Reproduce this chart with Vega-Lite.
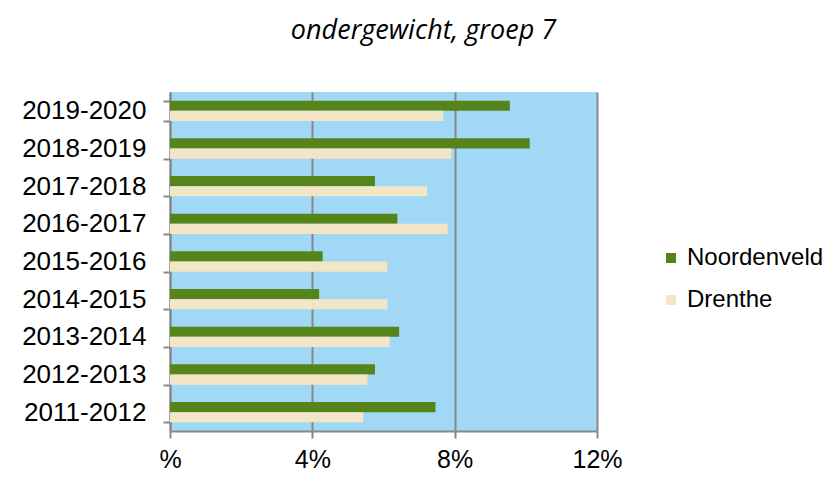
{
  "$schema": "https://vega.github.io/schema/vega-lite/v6.json",
  "autosize": {"type": "none"},
  "width": 427,
  "height": 339,
  "padding": {"left": 170, "top": 92, "right": 239, "bottom": 59},
  "background": "white",
  "title": {
    "text": "ondergewicht, groep 7",
    "font": "Open Sans",
    "fontStyle": "italic",
    "fontWeight": "normal",
    "fontSize": 27,
    "color": "#000000",
    "anchor": "middle",
    "frame": "group",
    "dx": 40,
    "offset": 34
  },
  "config": {
    "view": {"stroke": null, "fill": "#A0D8F5"}
  },
  "data": {
    "values": [
      {"jaar": "2019-2020", "regio": "Noordenveld", "waarde": 9.55},
      {"jaar": "2019-2020", "regio": "Drenthe", "waarde": 7.68},
      {"jaar": "2018-2019", "regio": "Noordenveld", "waarde": 10.11},
      {"jaar": "2018-2019", "regio": "Drenthe", "waarde": 7.91},
      {"jaar": "2017-2018", "regio": "Noordenveld", "waarde": 5.76},
      {"jaar": "2017-2018", "regio": "Drenthe", "waarde": 7.23},
      {"jaar": "2016-2017", "regio": "Noordenveld", "waarde": 6.39},
      {"jaar": "2016-2017", "regio": "Drenthe", "waarde": 7.8},
      {"jaar": "2015-2016", "regio": "Noordenveld", "waarde": 4.29},
      {"jaar": "2015-2016", "regio": "Drenthe", "waarde": 6.11},
      {"jaar": "2014-2015", "regio": "Noordenveld", "waarde": 4.19},
      {"jaar": "2014-2015", "regio": "Drenthe", "waarde": 6.11},
      {"jaar": "2013-2014", "regio": "Noordenveld", "waarde": 6.44},
      {"jaar": "2013-2014", "regio": "Drenthe", "waarde": 6.17},
      {"jaar": "2012-2013", "regio": "Noordenveld", "waarde": 5.76},
      {"jaar": "2012-2013", "regio": "Drenthe", "waarde": 5.55},
      {"jaar": "2011-2012", "regio": "Noordenveld", "waarde": 7.46},
      {"jaar": "2011-2012", "regio": "Drenthe", "waarde": 5.43}
    ]
  },
  "mark": {"type": "bar", "cornerRadius": 0},
  "encoding": {
    "y": {
      "field": "jaar",
      "type": "nominal",
      "sort": ["2019-2020", "2018-2019", "2017-2018", "2016-2017", "2015-2016", "2014-2015", "2013-2014", "2012-2013", "2011-2012"],
      "scale": {"paddingInner": 0.46, "paddingOuter": 0.23},
      "axis": {
        "title": null,
        "labelFont": "Liberation Sans",
        "labelFontSize": 26,
        "labelColor": "#000000",
        "labelPadding": 17,
        "domainColor": "#888888",
        "domainWidth": 2,
        "tickColor": "#888888",
        "tickWidth": 2,
        "tickSize": 7,
        "tickBand": "extent",
        "grid": false
      }
    },
    "yOffset": {
      "field": "regio",
      "type": "nominal",
      "sort": ["Noordenveld", "Drenthe"]
    },
    "x": {
      "field": "waarde",
      "type": "quantitative",
      "scale": {"domain": [0, 12], "nice": false},
      "axis": {
        "title": null,
        "values": [0, 4, 8, 12],
        "labelExpr": "datum.value == 0 ? '%' : datum.value + '%'",
        "labelFlush": false,
        "labelOverlap": false,
        "labelFont": "Liberation Sans",
        "labelFontSize": 25,
        "labelColor": "#000000",
        "labelPadding": 9,
        "domainColor": "#888888",
        "domainWidth": 2,
        "tickColor": "#888888",
        "tickWidth": 2,
        "tickSize": 7,
        "grid": true,
        "gridColor": "#888888",
        "gridWidth": 2
      }
    },
    "color": {
      "field": "regio",
      "type": "nominal",
      "sort": ["Noordenveld", "Drenthe"],
      "scale": {"domain": ["Noordenveld", "Drenthe"], "range": ["#55841B", "#F2E6C6"]},
      "legend": {
        "title": null,
        "orient": "none",
        "legendX": 489,
        "legendY": 154,
        "symbolType": "square",
        "symbolSize": 100,
        "symbolStrokeWidth": 0,
        "labelFont": "Liberation Sans",
        "labelFontSize": 24,
        "labelColor": "#000000",
        "rowPadding": 18,
        "labelOffset": 4
      }
    }
  }
}
